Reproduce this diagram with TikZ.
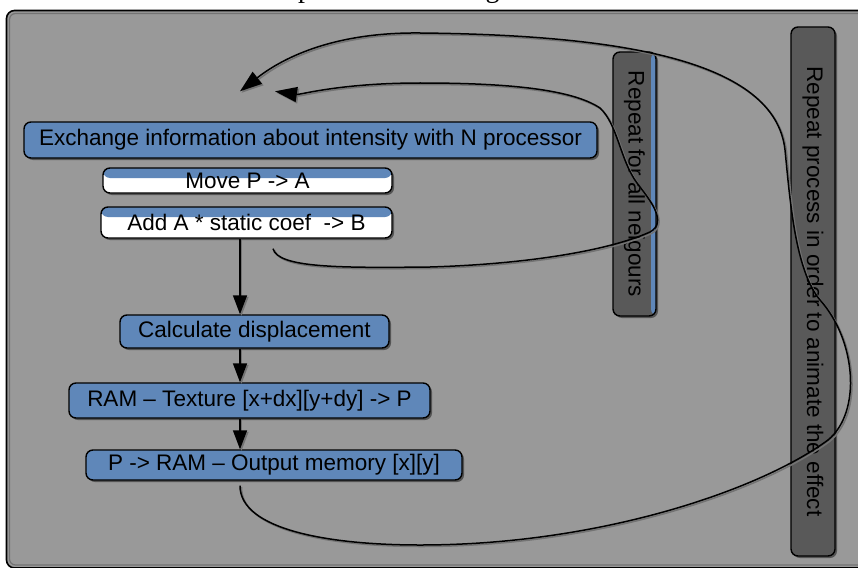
\documentclass[tikz,border=0pt]{standalone}
\usepackage{fontspec}
\setmainfont{Liberation Sans}
\newfontfamily\titlefont{Liberation Serif}
\usetikzlibrary{arrows.meta,shadows}
\definecolor{stepblue}{RGB}{95,135,185}
\definecolor{loopgray}{RGB}{89,89,89}
\definecolor{panelgray}{RGB}{153,153,153}
\tikzset{
  every node/.style={font=\fontsize{22.5}{27}\selectfont},
  stepbox/.style={draw=black, line width=1.4pt, rounded corners=7pt, fill=stepblue,
    inner sep=0pt, drop shadow={shadow xshift=2pt, shadow yshift=-2pt, fill=black, opacity=0.45}},
  halfbox/.style={stepbox, fill=white,
    path picture={\fill[stepblue] (path picture bounding box.north west) rectangle ([yshift=-#1]path picture bounding box.north east);}},
  loopbox/.style={stepbox, fill=loopgray},
  flow/.style={line width=1.5pt, -{Triangle[length=19pt, width=14pt]},
    preaction={draw=black!55, line width=1.5pt, transform canvas={shift={(1.5pt,-1.5pt)}}}},
  back/.style={flow, -{Triangle[length=22pt, width=15pt]}}
}
\begin{document}
\begin{tikzpicture}[x=1pt,y=-1pt]
\useasboundingbox (0,0) rectangle (858,567);
\begin{scope}
\clip (0,0) rectangle (858,567);
\node[font=\titlefont\fontsize{28}{30}\selectfont, anchor=base] (title) at (405,-2) {Implementation diagram};
\draw[fill=panelgray, draw=black, line width=1.6pt, rounded corners=8pt] (6.5,10.5) rectangle (875,568);
\draw[draw=black!55, line width=1.2pt, rounded corners=6pt] (9.5,13.5) rectangle (872,565);
\end{scope}
\node[stepbox, minimum width=573pt, minimum height=36pt] (exch) at (310.5,140) {Exchange information about intensity with N processor};
\node[halfbox=10pt, minimum width=289pt, minimum height=25pt] (move) at (247.5,180.5) {Move P -> A};
\node[halfbox=10pt, minimum width=291pt, minimum height=31pt] (add) at (246.5,222.5) {Add A * static coef \ -> B};
\node[stepbox, minimum width=269pt, minimum height=33pt] (calc) at (254.5,331.5) {Calculate displacement};
\node[stepbox, minimum width=361pt, minimum height=35pt] (ram) at (249.5,400.5) {RAM -- Texture [x+dx][y+dy] -> P};
\node[stepbox, minimum width=376pt, minimum height=30pt] (out) at (274,465) {P -> RAM -- Output memory [x][y]};
\node[loopbox, minimum width=43pt, minimum height=264pt,
  path picture={\fill[stepblue] ([xshift=-5pt]path picture bounding box.north east) rectangle (path picture bounding box.south east);}] (neigh) at (634.5,184) {\rotatebox{-90}{Repeat for all neigours}};
\node[loopbox, minimum width=44pt, minimum height=529pt] (proc) at (813,291.5) {\rotatebox{-90}{Repeat process in order to animate the effect}};
\coordinate (axis) at (240,0);
\draw[flow] (add.south -| axis) -- (calc.north -| axis);
\draw[flow] (calc.south -| axis) -- (ram.north -| axis);
\draw[flow] (ram.south -| axis) -- (out.north -| axis);
\draw[back] ([xshift=26.5pt,yshift=-10pt]add.south) .. controls (278,268) and (340,268) .. (430,267)
  .. controls (530,264) and (610,250) .. (650,232)
  .. controls (668,222) and (650,200) .. (637,183)
  .. controls (620,160) and (618,125) .. (600,108)
  .. controls (570,88) and (500,83) .. (420,83)
  .. controls (340,83) and (300,95) .. ([xshift=-35.5pt,yshift=30pt]exch.north);
\draw[back] ([yshift=-5pt]out.south -| axis) .. controls (240,530) and (330,545) .. (420,545)
  .. controls (600,545) and (760,490) .. (828,440)
  .. controls (862,412) and (856,340) .. (820,300)
  .. controls (795,270) and (790,200) .. (785,150)
  .. controls (775,60) and (620,35) .. (420,33)
  .. controls (330,32) and (280,60) .. ([xshift=-70.5pt,yshift=30pt]exch.north);
\end{tikzpicture}
\end{document}
